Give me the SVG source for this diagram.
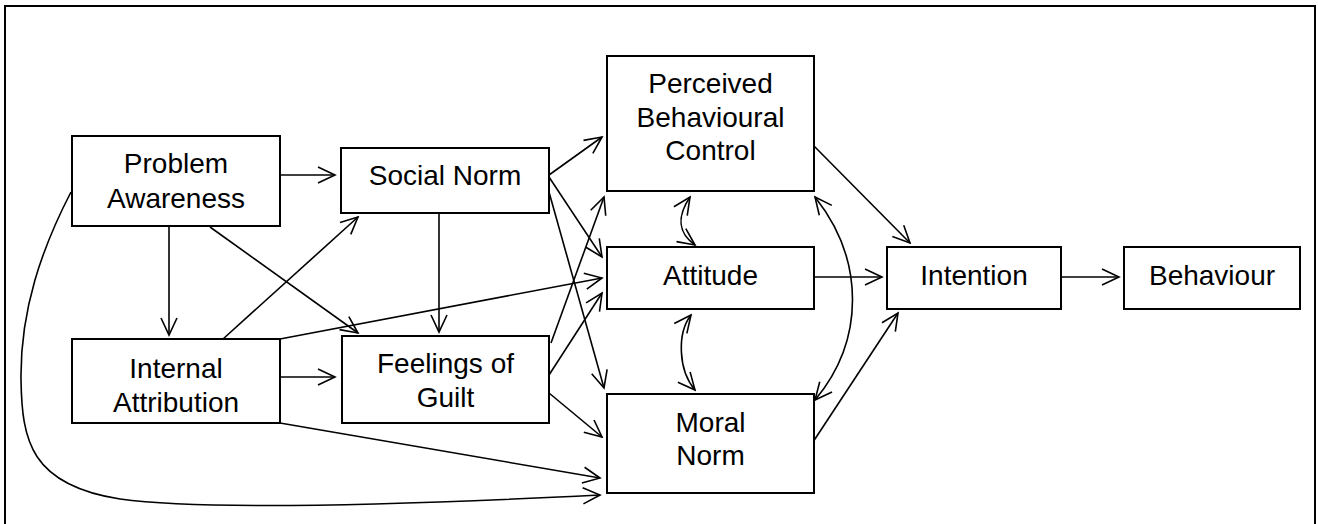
<svg xmlns="http://www.w3.org/2000/svg" width="1318" height="524" viewBox="0 0 1318 524">
  <style>
    .box { fill: #fff; stroke: #000; stroke-width: 2; }
    .lbl { font-family: "Liberation Sans", Arial, sans-serif; font-size: 28px; fill: #000; text-anchor: middle; }
    .con { fill: none; stroke: #000; stroke-width: 1.6; marker-end: url(#head); }
    .dbl { marker-start: url(#head); }
  </style>
  <defs>
    <marker id="head" viewBox="-20 -10 22 20" refX="0" refY="0" markerWidth="22" markerHeight="20" markerUnits="userSpaceOnUse" orient="auto-start-reverse">
      <path d="M-17,-8 L0,0 L-17,8" fill="none" stroke="#000" stroke-width="1.6"/>
    </marker>
  </defs>

  <!-- open frame: top, left and right edges only -->
  <path d="M5,524 V6 H1315 V524" fill="none" stroke="#000" stroke-width="2"/>

  <g id="connectors">
    <line class="con" x1="278" y1="175" x2="335" y2="175"/>
    <line class="con" x1="169" y1="226" x2="169" y2="335"/>
    <line class="con" x1="210" y1="227" x2="358" y2="333"/>
    <line class="con" x1="223" y1="339" x2="358" y2="217"/>
    <line class="con" x1="439" y1="213" x2="439" y2="332"/>
    <line class="con" x1="278" y1="377" x2="335" y2="377"/>
    <line class="con" x1="549" y1="175" x2="602" y2="137"/>
    <line class="con" x1="549" y1="177" x2="602" y2="257"/>
    <line class="con" x1="549" y1="192" x2="604" y2="388"/>
    <line class="con" x1="280" y1="339" x2="602" y2="278"/>
    <line class="con" x1="551" y1="343" x2="604" y2="197"/>
    <line class="con" x1="549" y1="375" x2="602" y2="293"/>
    <line class="con" x1="549" y1="393" x2="602" y2="437"/>
    <line class="con" x1="280" y1="423" x2="600" y2="478"/>
    <path class="con" d="M71,192 C42,248 20,310 21,380 C22,440 30,485 120,499 C200,510 400,505 600,495"/>
    <path class="con dbl" d="M690,197 C680,212 674,230 695,245"/>
    <path class="con dbl" d="M691,315 C677,333 678,370 695,390"/>
    <path class="con dbl" d="M815,197 C865,260 865,340 815,400"/>
    <line class="con" x1="813" y1="145" x2="910" y2="243"/>
    <line class="con" x1="813" y1="277" x2="882" y2="277"/>
    <line class="con" x1="813" y1="442" x2="898" y2="313"/>
    <line class="con" x1="1060" y1="277" x2="1119" y2="277"/>
  </g>

  <g id="problem-awareness">
    <rect class="box" x="72" y="136" width="208" height="90"/>
    <text class="lbl" x="176" y="173">Problem</text>
    <text class="lbl" x="176" y="208">Awareness</text>
  </g>
  <g id="social-norm">
    <rect class="box" x="341" y="148" width="208" height="65"/>
    <text class="lbl" x="445" y="185">Social Norm</text>
  </g>
  <g id="internal-attribution">
    <rect class="box" x="72" y="339" width="208" height="84"/>
    <text class="lbl" x="176" y="378">Internal</text>
    <text class="lbl" x="176" y="412">Attribution</text>
  </g>
  <g id="feelings-of-guilt">
    <rect class="box" x="342" y="336" width="207" height="87"/>
    <text class="lbl" x="445.5" y="373">Feelings of</text>
    <text class="lbl" x="445.5" y="407">Guilt</text>
  </g>
  <g id="perceived-behavioural-control">
    <rect class="box" x="607" y="56" width="207" height="135"/>
    <text class="lbl" x="710.5" y="93">Perceived</text>
    <text class="lbl" x="710.5" y="127">Behavioural</text>
    <text class="lbl" x="710.5" y="160">Control</text>
  </g>
  <g id="attitude">
    <rect class="box" x="607" y="247" width="207" height="62"/>
    <text class="lbl" x="710.5" y="285">Attitude</text>
  </g>
  <g id="moral-norm">
    <rect class="box" x="607" y="394" width="207" height="99"/>
    <text class="lbl" x="710.5" y="432">Moral</text>
    <text class="lbl" x="710.5" y="465">Norm</text>
  </g>
  <g id="intention">
    <rect class="box" x="887" y="247" width="174" height="62"/>
    <text class="lbl" x="974" y="285">Intention</text>
  </g>
  <g id="behaviour">
    <rect class="box" x="1124" y="247" width="176" height="62"/>
    <text class="lbl" x="1212" y="285">Behaviour</text>
  </g>
</svg>
